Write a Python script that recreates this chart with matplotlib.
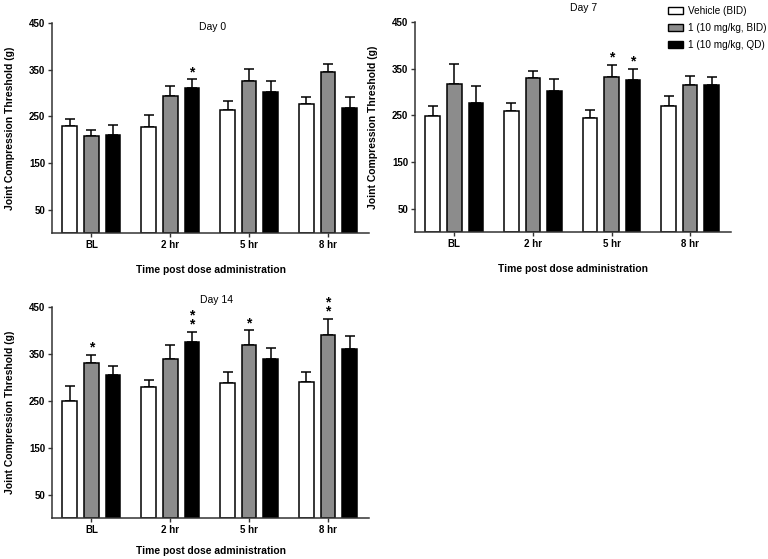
import numpy as np
import matplotlib.pyplot as plt
from matplotlib.patches import Patch

plt.rcParams['font.family'] = ['Liberation Sans', 'DejaVu Sans']

# Data
groups = ['BL', '2 hr', '5 hr', '8 hr']
series = ['Vehicle (BID)', '1 (10 mg/kg, BID)', '1 (10 mg/kg, QD)']

day0_mean = [[229, 227, 264, 276],
             [207, 294, 326, 344],
             [211, 311, 302, 267]]
day0_err = [[16, 25, 19, 16],
            [13, 21, 25, 19],
            [20, 18, 23, 24]]
day0_stars = [(2, 1, '*')]

day7_mean = [[249, 260, 245, 271],
             [318, 330, 333, 314],
             [276, 302, 326, 316]]
day7_err = [[20, 16, 17, 20],
            [43, 15, 25, 20],
            [36, 25, 23, 16]]
day7_stars = [(1, 2, '*'), (2, 2, '*')]

day14_mean = [[250, 279, 288, 290],
              [330, 340, 368, 391],
              [304, 375, 339, 361]]
day14_err = [[31, 16, 23, 21],
             [18, 29, 32, 34],
             [21, 22, 23, 28]]
day14_stars = [(1, 0, '*'), (2, 1, '*\n*'), (1, 2, '*'), (1, 3, '*\n*')]

colors = ['white', '#8c8c8c', 'black']

W, H = 768, 559
fig = plt.figure(figsize=(W / 100, H / 100), dpi=100)


def rect(x0, x1, ytop, ybot):
    return [x0 / W, 1 - ybot / H, (x1 - x0) / W, (ybot - ytop) / H]


def panel(r, mean, err, stars, title, tpos, xpad):
    ax = fig.add_axes(r)
    x = np.arange(len(groups))
    width = 0.186
    step = 0.274
    for i in range(3):
        xs = x + (i - 1) * step
        ax.bar(xs, mean[i], width, color=colors[i], edgecolor='black', linewidth=1.1, zorder=2)
        ax.errorbar(xs, mean[i], yerr=[np.zeros(4), err[i]], fmt='none', ecolor='black',
                    elinewidth=1.1, capsize=3.5, capthick=1.1, zorder=1)
    for s, g, txt in stars:
        xs = x[g] + (s - 1) * step
        top = mean[s][g] + err[s][g]
        ax.text(xs, top + 1, txt, ha='center', va='bottom', fontsize=10, fontweight='bold',
                linespacing=0.5)
    ax.set_xlim(-0.5, 3.52)
    ax.set_ylim(0, 450)
    ax.set_yticks([50, 150, 250, 350, 450])
    ax.set_xticks(x)
    ax.set_xticklabels(groups)
    for lab in ax.get_xticklabels() + ax.get_yticklabels():
        lab.set_fontweight('bold')
        lab.set_fontsize(7)
    ax.tick_params(length=3, width=1, color='#333333', pad=2)
    for side in ['top', 'right']:
        ax.spines[side].set_visible(False)
    for side in ['left', 'bottom']:
        ax.spines[side].set_color('#333333')
        ax.spines[side].set_linewidth(1.1)
    ax.set_ylabel('Joint Compression Threshold (g)', fontsize=7.5, fontweight='bold', labelpad=10)
    ax.set_xlabel('Time post dose administration', fontsize=7.4, fontweight='bold', labelpad=xpad)
    fig.text(tpos[0] / W, 1 - tpos[1] / H, title, ha='center', va='center', fontsize=7.5)
    return ax


panel(rect(52, 369, 23, 233), day0_mean, day0_err, day0_stars, 'Day 0', (213, 27), 11)
panel(rect(415, 731, 22, 232), day7_mean, day7_err, day7_stars, 'Day 7', (584, 8), 11)
panel(rect(52, 369, 307, 518), day14_mean, day14_err, day14_stars, 'Day 14', (216, 300), 8)

handles = [Patch(facecolor=c, edgecolor='black', linewidth=1) for c in colors]
fig.legend(handles, series, loc='upper left', bbox_to_anchor=(659 / W, 1 + 3 / H),
           frameon=False, fontsize=7.2, handlelength=1.5, handleheight=0.75,
           handletextpad=0.45, labelspacing=0.7)

fig.savefig('out.png', dpi=100)
